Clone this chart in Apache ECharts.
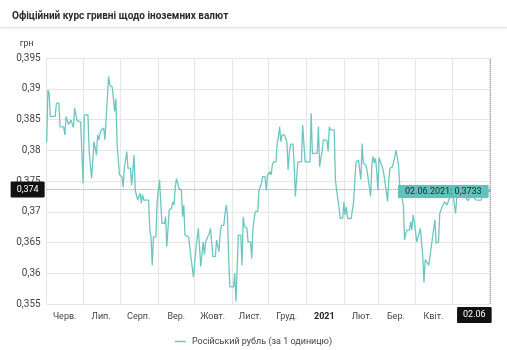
<!DOCTYPE html>
<html>
<head>
<meta charset="utf-8">
<script src="https://cdn.jsdelivr.net/npm/echarts@6/dist/echarts.min.js"></script>
<style>
  html, body { margin: 0; padding: 0; background: #fff; }
  #chart { width: 507px; height: 350px; }
</style>
</head>
<body>
<div id="chart"></div>
<script>
// Official hryvnia rate per 1 Russian rouble, June 2020 – June 2021
const dates = [
  '2020-06-01','2020-06-02','2020-06-03','2020-06-04','2020-06-08','2020-06-09','2020-06-11','2020-06-12',
  '2020-06-15','2020-06-16','2020-06-17','2020-06-18','2020-06-19','2020-06-21','2020-06-22','2020-06-23',
  '2020-06-24','2020-06-26','2020-06-29','2020-07-01','2020-07-02','2020-07-05','2020-07-06','2020-07-08',
  '2020-07-10','2020-07-11','2020-07-12','2020-07-13','2020-07-14','2020-07-15','2020-07-16','2020-07-18',
  '2020-07-19','2020-07-22','2020-07-23','2020-07-25','2020-07-27','2020-07-28','2020-07-29','2020-07-31',
  '2020-08-02','2020-08-03','2020-08-04','2020-08-06','2020-08-07','2020-08-09','2020-08-10','2020-08-12',
  '2020-08-13','2020-08-15','2020-08-16','2020-08-17','2020-08-18','2020-08-19','2020-08-20','2020-08-24',
  '2020-08-25','2020-08-26','2020-08-27','2020-08-28','2020-08-30','2020-08-31','2020-09-02','2020-09-03',
  '2020-09-04','2020-09-06','2020-09-07','2020-09-08','2020-09-10','2020-09-12','2020-09-13','2020-09-14',
  '2020-09-15','2020-09-16','2020-09-18','2020-09-20','2020-09-21','2020-09-22','2020-09-23','2020-09-26',
  '2020-09-28','2020-09-30','2020-10-02','2020-10-04','2020-10-06','2020-10-07','2020-10-08','2020-10-09',
  '2020-10-10','2020-10-11','2020-10-13','2020-10-14','2020-10-15','2020-10-16','2020-10-18','2020-10-19',
  '2020-10-21','2020-10-22','2020-10-23','2020-10-25','2020-10-26','2020-10-27','2020-10-28','2020-10-29',
  '2020-10-30','2020-11-02','2020-11-03','2020-11-04','2020-11-05','2020-11-06','2020-11-08','2020-11-09',
  '2020-11-10','2020-11-11','2020-11-13','2020-11-14','2020-11-16','2020-11-17','2020-11-18','2020-11-19',
  '2020-11-20','2020-11-22','2020-11-23','2020-11-25','2020-11-26','2020-11-28','2020-11-29','2020-11-30',
  '2020-12-02','2020-12-03','2020-12-04','2020-12-05','2020-12-07','2020-12-08','2020-12-09','2020-12-10',
  '2020-12-11','2020-12-12','2020-12-14','2020-12-15','2020-12-16','2020-12-17','2020-12-18','2020-12-19',
  '2020-12-21','2020-12-22','2020-12-23','2020-12-25','2020-12-28','2020-12-29','2020-12-30','2020-12-31',
  '2021-01-04','2021-01-05','2021-01-06','2021-01-10','2021-01-11','2021-01-12','2021-01-13','2021-01-14',
  '2021-01-15','2021-01-18','2021-01-19','2021-01-20','2021-01-21','2021-01-24','2021-01-25','2021-01-26',
  '2021-01-27','2021-01-28','2021-01-29','2021-01-31','2021-02-01','2021-02-02','2021-02-03','2021-02-04',
  '2021-02-07','2021-02-08','2021-02-09','2021-02-10','2021-02-11','2021-02-13','2021-02-14','2021-02-15',
  '2021-02-16','2021-02-17','2021-02-19','2021-02-20','2021-02-21','2021-02-23','2021-02-24','2021-02-25',
  '2021-02-26','2021-02-27','2021-02-28','2021-03-01','2021-03-02','2021-03-04','2021-03-05','2021-03-06',
  '2021-03-07','2021-03-09','2021-03-10','2021-03-11','2021-03-13','2021-03-14','2021-03-15','2021-03-16',
  '2021-03-18','2021-03-19','2021-03-20','2021-03-22','2021-03-23','2021-03-24','2021-03-25','2021-03-27',
  '2021-03-28','2021-03-29','2021-03-30','2021-03-31','2021-04-01','2021-04-02','2021-04-03','2021-04-05',
  '2021-04-07','2021-04-08','2021-04-09','2021-04-12','2021-04-14','2021-04-15','2021-04-17','2021-04-18',
  '2021-04-20','2021-04-21','2021-04-23','2021-04-25','2021-04-27','2021-04-29','2021-05-02','2021-05-04',
  '2021-05-05','2021-05-09','2021-05-12','2021-05-14','2021-05-17','2021-05-21','2021-05-25','2021-05-27',
  '2021-06-01','2021-06-02'
];
const rates = [
  0.3813,0.3898,0.3893,0.3855,0.3855,0.3876,0.3877,0.3838,
  0.3838,0.3825,0.3855,0.3848,0.3842,0.3849,0.3851,0.3837,
  0.3869,0.3848,0.3846,0.3746,0.3857,0.3858,0.3798,0.3754,
  0.3814,0.3814,0.3792,0.3825,0.3817,0.3828,0.3833,0.3836,
  0.3817,0.3920,0.3906,0.3903,0.3863,0.3884,0.3811,0.3760,
  0.3757,0.3740,0.3771,0.3798,0.3771,0.3771,0.3743,0.3792,
  0.3735,0.3719,0.3719,0.3730,0.3714,0.3728,0.3719,0.3719,
  0.3670,0.3659,0.3613,0.3659,0.3659,0.3716,0.3752,0.3716,
  0.3681,0.3681,0.3692,0.3643,0.3703,0.3706,0.3716,0.3711,
  0.3741,0.3754,0.3738,0.3735,0.3692,0.3711,0.3662,0.3659,
  0.3624,0.3594,0.3640,0.3673,0.3611,0.3608,0.3651,0.3630,
  0.3651,0.3654,0.3665,0.3673,0.3676,0.3627,0.3627,0.3654,
  0.3635,0.3665,0.3678,0.3678,0.3697,0.3711,0.3695,0.3624,
  0.3578,0.3578,0.3600,0.3554,0.3608,0.3662,0.3662,0.3613,
  0.3692,0.3676,0.3673,0.3651,0.3651,0.3624,0.3673,0.3689,
  0.3700,0.3701,0.3735,0.3746,0.3757,0.3757,0.3735,0.3760,
  0.3765,0.3760,0.3776,0.3781,0.3781,0.3811,0.3822,0.3838,
  0.3814,0.3825,0.3825,0.3819,0.3814,0.3768,0.3795,0.3810,
  0.3810,0.3776,0.3725,0.3781,0.3781,0.3841,0.3838,0.3781,
  0.3781,0.3860,0.3795,0.3795,0.3838,0.3773,0.3787,0.3798,
  0.3817,0.3816,0.3798,0.3838,0.3833,0.3833,0.3752,0.3735,
  0.3738,0.3706,0.3689,0.3690,0.3716,0.3695,0.3708,0.3689,
  0.3689,0.3703,0.3716,0.3752,0.3781,0.3784,0.3781,0.3752,
  0.3811,0.3779,0.3776,0.3768,0.3768,0.3725,0.3776,0.3790,
  0.3779,0.3787,0.3768,0.3735,0.3788,0.3776,0.3771,0.3760,
  0.3760,0.3717,0.3752,0.3771,0.3773,0.3781,0.3779,0.3800,
  0.3776,0.3743,0.3730,0.3711,0.3654,0.3665,0.3670,0.3670,
  0.3684,0.3670,0.3695,0.3684,0.3668,0.3651,0.3651,0.3673,
  0.3627,0.3585,0.3622,0.3613,0.3643,0.3640,0.3687,0.3649,
  0.3651,0.3697,0.3708,0.3716,0.3711,0.3722,0.3727,0.3697,
  0.3722,0.3727,0.3725,0.3718,0.3727,0.3719,0.3719,0.3727,
  0.3735,0.3733
];
const monthNames = ['Січ.','Лют.','Бер.','Квіт.','Трав.','Черв.','Лип.','Серп.','Вер.','Жовт.','Лист.','Груд.'];
const yTicks = { min: 0.355, max: 0.395, step: 0.005 };
const crosshairValue = 0.3736;
const seriesName = 'Російський рубль (за 1 одиницю)';
const titleText = 'Офіційний курс гривні щодо іноземних валют';

const firstDate = dates[0];
const lastDate = dates[dates.length - 1];
const lastRate = rates[rates.length - 1];

const comma = (v, digits) => String(+v.toFixed(digits)).replace('.', ',');
const dmy = s => { const p = s.split('-'); return p[2] + '.' + p[1] + '.' + p[0]; };
const dm = s => { const p = s.split('-'); return p[2] + '.' + p[1]; };

const chart = echarts.init(document.getElementById('chart'), null, { renderer: 'canvas' });
const font = 'Roboto, "Noto Sans", sans-serif';
const teal = '#6cc7c1';

chart.setOption({
  animation: false,
  textStyle: { fontFamily: font },
  title: {
    text: titleText, left: 7, top: 6,
    textStyle: { fontSize: 10, fontWeight: 'bold', color: '#2b2b2b', fontFamily: font }
  },
  graphic: [{
    type: 'rect', left: 0, top: 27, shape: { width: 507, height: 1 },
    style: { fill: '#e4e4e4', shadowBlur: 3, shadowColor: 'rgba(0,0,0,0.12)', shadowOffsetY: 1 },
    silent: true
  }],
  grid: { left: 46.7, right: 16.3, top: 58, bottom: 46 },
  legend: {
    top: 332, left: 'center', icon: 'rect', itemWidth: 11, itemHeight: 1.5, itemGap: 4,
    textStyle: { fontSize: 9, color: '#444', padding: [0, 0, 0, 1] },
    data: [seriesName]
  },
  xAxis: {
    type: 'time',
    min: firstDate, max: lastDate,
    splitNumber: 12,
    minInterval: 28 * 86400000,
    maxInterval: 31 * 86400000,
    axisLine: { show: false },
    axisTick: { show: false },
    splitLine: { show: true, lineStyle: { color: '#e6e6e6', width: 1 } },
    axisLabel: {
      margin: 8, fontSize: 9, color: '#444', padding: [0, 0, 0, 36],
      showMinLabel: true, showMaxLabel: false, hideOverlap: false,
      formatter: function (value) {
        const d = new Date(value);
        if (d.getFullYear() === 2021 && d.getMonth() === 5) return '';
        if (d.getMonth() === 0) return '{y|' + d.getFullYear() + '}';
        return monthNames[d.getMonth()];
      },
      rich: { y: { fontWeight: 'bold', fontSize: 9, color: '#222' } }
    }
  },
  yAxis: {
    type: 'value',
    min: yTicks.min, max: yTicks.max, interval: yTicks.step,
    name: 'грн', nameLocation: 'end', nameGap: 10,
    nameTextStyle: { fontSize: 9, color: '#444', align: 'right', padding: [0, 13, 0, 0] },
    axisLine: { show: true, lineStyle: { color: '#e6e6e6' } },
    axisTick: { show: false },
    splitLine: { show: true, lineStyle: { color: '#e6e6e6', width: 1 } },
    axisLabel: {
      margin: 6, fontSize: 10, color: '#444',
      formatter: v => comma(v, 3)
    }
  },
  series: [{
    name: seriesName,
    type: 'line',
    data: dates.map((d, i) => [d, rates[i]]),
    symbol: 'none',
    lineStyle: { color: teal, width: 1.3 },
    itemStyle: { color: teal },
    markLine: {
      silent: true, symbol: 'none', animation: false, precision: 4,
      label: { show: false },
      lineStyle: { color: '#9a9a9a', type: 'dotted', width: 1 },
      data: [
        [{ coord: [firstDate, crosshairValue] }, { coord: [lastDate, crosshairValue] }],
        [{ coord: [lastDate, yTicks.min] }, { coord: [lastDate, yTicks.max] }]
      ]
    },
    markPoint: {
      silent: true, animation: false,
      data: [
        {
          coord: [lastDate, lastRate], symbol: 'circle', symbolSize: 0.1,
          itemStyle: { color: teal },
          label: {
            show: true, position: 'left', distance: 2,
            formatter: dmy(lastDate) + ': ' + comma(lastRate, 4),
            backgroundColor: '#62c1bb', color: '#1f2a2a', fontSize: 9,
            padding: [2, 7, 2, 7], borderRadius: 1
          }
        },
        {
          coord: [firstDate, crosshairValue], symbol: 'circle', symbolSize: 0.1,
          itemStyle: { color: '#000' },
          label: {
            show: true, position: 'left', distance: 2,
            formatter: comma(crosshairValue, 3),
            backgroundColor: '#111', color: '#fff', fontSize: 9,
            padding: [4, 6, 3, 6], borderRadius: 1
          }
        },
        {
          coord: [lastDate, yTicks.min], symbol: 'circle', symbolSize: 0.1,
          itemStyle: { color: '#000' },
          label: {
            show: true, position: 'left', distance: 0, offset: [1, 11],
            formatter: dm(lastDate),
            backgroundColor: '#111', color: '#fff', fontSize: 9,
            padding: [4, 6, 3, 6], borderRadius: 1
          }
        }
      ]
    }
  }]
});
</script>
</body>
</html>
